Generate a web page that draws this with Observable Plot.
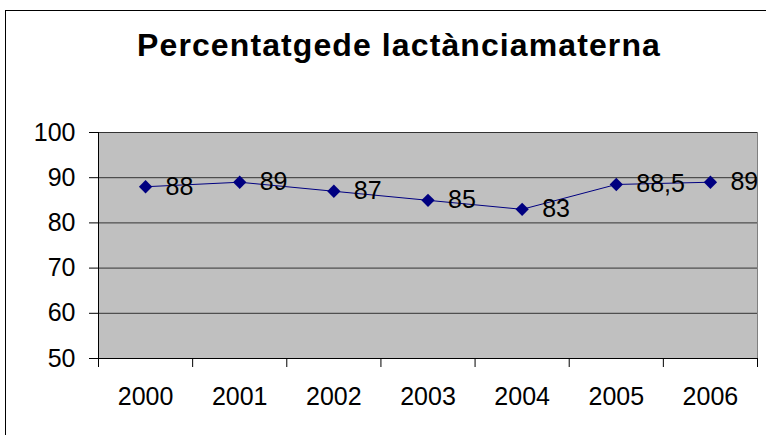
<!DOCTYPE html>
<html>
<head>
<meta charset="utf-8">
<script src="https://cdn.jsdelivr.net/npm/d3@7"></script>
<script src="https://cdn.jsdelivr.net/npm/@observablehq/plot@0.6"></script>
<style>
  html, body { margin: 0; padding: 0; background: #fff; }
  #wrap { position: relative; width: 766px; height: 435px; overflow: hidden; font-family: "Liberation Sans", Arial, sans-serif; }
  #border { position: absolute; left: 5px; top: 10px; width: 840px; height: 520px; border: 1px solid #000; box-sizing: border-box; }
  #title { position: absolute; left: 0; width: 798px; top: 27px; text-align: center; font-weight: bold; font-size: 32px; letter-spacing: 1.1px; line-height: 36px; color: #000; white-space: nowrap; }
  #chart { position: absolute; left: 0; top: 0; }
</style>
</head>
<body>
<div id="wrap">
  <div id="border"></div>
  <div id="title">Percentatgede lactànciamaterna</div>
  <div id="chart"></div>
</div>
<script>
const years = [2000, 2001, 2002, 2003, 2004, 2005, 2006];
const values = [88, 89, 87, 85, 83, 88.5, 89];
const valueLabels = ["88", "89", "87", "85", "83", "88,5", "89"];
const yTicks = [50, 60, 70, 80, 90, 100];
const xBoundaries = [1999.5, 2000.5, 2001.5, 2002.5, 2003.5, 2004.5, 2005.5, 2006.5];

const data = years.map((y, i) => ({year: y, value: values[i], label: valueLabels[i]}));

const chart = Plot.plot({
  width: 766,
  height: 435,
  marginLeft: 98,
  marginRight: 9,
  marginTop: 132,
  marginBottom: 77,
  style: {fontFamily: "'Liberation Sans', Arial, sans-serif", fontSize: "25px", color: "#000", background: "transparent", overflow: "visible"},
  x: {type: "linear", domain: [1999.5, 2006.5]},
  y: {domain: [50, 100]},
  marks: [
    Plot.frame({fill: "#C0C0C0", stroke: "#808080"}),
    Plot.gridY(yTicks, {stroke: "#333", strokeOpacity: 1, strokeWidth: 1}),
    Plot.axisY({ticks: yTicks, tickSize: 9, tickPadding: 14, fontSize: 25, stroke: "#000", label: null}),
    Plot.axisX({ticks: xBoundaries, tickSize: 9, tickFormat: () => "", label: null, stroke: "#000"}),
    Plot.axisX({ticks: years, tickSize: 0, tickPadding: 29, tickFormat: d => String(d), fontSize: 25, label: null}),
    Plot.ruleX([1999.5], {stroke: "#000"}),
    Plot.ruleY([50], {stroke: "#000"}),
    Plot.line(data, {x: "year", y: "value", stroke: "#000080", strokeWidth: 1}),
    Plot.dot(data, {x: "year", y: "value", symbol: "diamond2", r: 6, fill: "#000080", stroke: "none"}),
    Plot.text(data, {x: "year", y: "value", text: "label", textAnchor: "start", dx: 20, dy: 0, fontSize: 25, fill: "#000"})
  ]
});
document.getElementById("chart").appendChild(chart);
</script>
</body>
</html>
